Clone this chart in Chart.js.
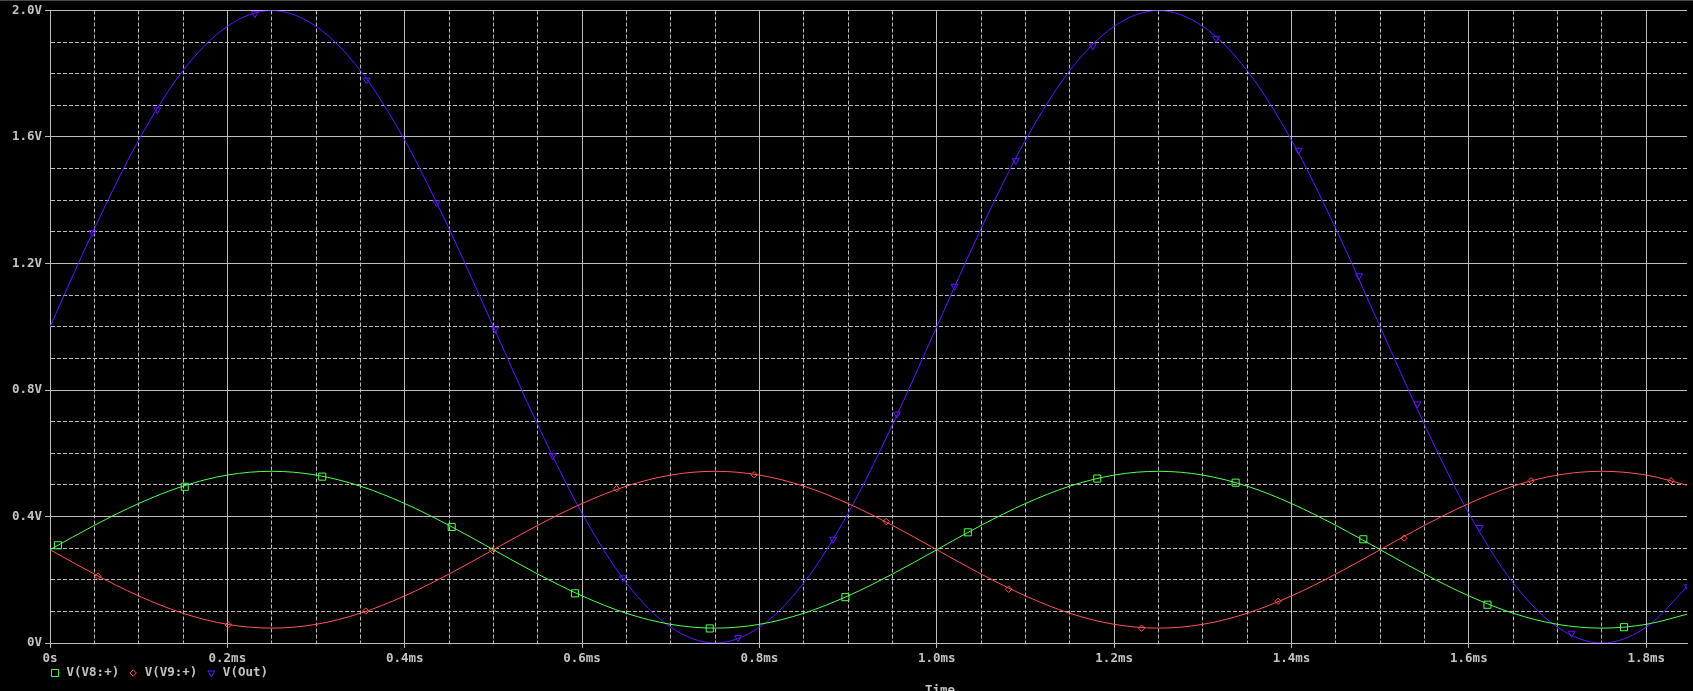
<!DOCTYPE html>
<html>
<head>
<meta charset="utf-8">
<title>V(V8:+), V(V9:+), V(Out)</title>
<script src="https://cdn.jsdelivr.net/npm/chart.js@4.4.1/dist/chart.umd.min.js"></script>
<style>
  html, body { margin: 0; padding: 0; background: #000; overflow: hidden; }
  #wrap { position: relative; width: 1693px; height: 691px; }
  #topline { position: absolute; left: 0; top: 0; width: 100%; height: 1px; background: #4a4a4a; }
</style>
</head>
<body>
<div id="wrap">
  <canvas id="probeChart" width="1693" height="691"></canvas>
  <div id="topline"></div>
</div>
<script>
// time axis in ms, sampled every 0.05 ms
const timeMs = [
    0.00, 0.05, 0.10, 0.15, 0.20, 0.25, 0.30, 0.35, 0.40, 0.45,
    0.50, 0.55, 0.60, 0.65, 0.70, 0.75, 0.80, 0.85, 0.90, 0.95,
    1.00, 1.05, 1.10, 1.15, 1.20, 1.25, 1.30, 1.35, 1.40, 1.45,
    1.50, 1.55, 1.60, 1.65, 1.70, 1.75, 1.80, 1.85
];

// V(V8:+) - green
const vV8 = [
    0.295, 0.372, 0.441, 0.496, 0.531, 0.543, 0.531, 0.496, 0.441, 0.372,
    0.295, 0.218, 0.149, 0.094, 0.059, 0.047, 0.059, 0.094, 0.149, 0.218,
    0.295, 0.372, 0.441, 0.496, 0.531, 0.543, 0.531, 0.496, 0.441, 0.372,
    0.295, 0.218, 0.149, 0.094, 0.059, 0.047, 0.059, 0.094
];

// V(V9:+) - red
const vV9 = [
    0.295, 0.218, 0.149, 0.094, 0.059, 0.047, 0.059, 0.094, 0.149, 0.218,
    0.295, 0.372, 0.441, 0.496, 0.531, 0.543, 0.531, 0.496, 0.441, 0.372,
    0.295, 0.218, 0.149, 0.094, 0.059, 0.047, 0.059, 0.094, 0.149, 0.218,
    0.295, 0.372, 0.441, 0.496, 0.531, 0.543, 0.531, 0.496
];

// V(Out) - blue
const vOut = [
    1.00, 1.31, 1.59, 1.81, 1.95, 2.00, 1.95, 1.81, 1.59, 1.31,
    1.00, 0.69, 0.41, 0.19, 0.05, 0.00, 0.05, 0.19, 0.41, 0.69,
    1.00, 1.31, 1.59, 1.81, 1.95, 2.00, 1.95, 1.81, 1.59, 1.31,
    1.00, 0.69, 0.41, 0.19, 0.05, 0.00, 0.05, 0.19
];

// probe markers as placed on the traces
const v8MarkT = [0.009, 0.152, 0.307, 0.453, 0.592, 0.744, 0.897, 1.035, 1.181, 1.337, 1.481, 1.621, 1.775];
const v8MarkV = [0.309, 0.494, 0.526, 0.367, 0.157, 0.046, 0.145, 0.350, 0.520, 0.507, 0.328, 0.121, 0.050];

const v9MarkT = [0.054, 0.201, 0.356, 0.499, 0.639, 0.794, 0.943, 1.081, 1.231, 1.385, 1.527, 1.670, 1.828];
const v9MarkV = [0.211, 0.057, 0.101, 0.293, 0.488, 0.532, 0.384, 0.170, 0.047, 0.132, 0.332, 0.513, 0.513];

const outMarkT = [0.048, 0.121, 0.231, 0.357, 0.436, 0.502, 0.567, 0.646, 0.776, 0.883, 0.955, 1.020,
                  1.089, 1.176, 1.315, 1.408, 1.476, 1.542, 1.612, 1.716, 1.847];
const outMarkV = [1.298, 1.686, 1.990, 1.780, 1.392, 0.992, 0.592, 0.206, 0.017, 0.328, 0.724, 1.128,
                  1.525, 1.888, 1.912, 1.558, 1.161, 0.756, 0.365, 0.031, 0.178];

const seriesNames = ['V(V8:+)', 'V(V9:+)', 'V(Out)'];
const xTitle = 'Time';

const GREEN = '#55ff55';
const RED = '#ff5555';
const BLUE = '#6018ff';
const GRID = '#bdbdbd';
const TEXT = '#c4c4c4';
const FONT = { family: '"DejaVu Sans Mono", monospace', size: 12.5, weight: 'bold' };

function toPoints(xs, ys) {
    return xs.map((x, i) => ({ x: x, y: ys[i] }));
}

function isMajorX(v) { return Math.round(v * 100) % 20 === 0; }
function isMajorY(v) { return Math.round(v * 10) % 4 === 0; }

function traceDataset(data, color) {
    return {
        data: data,
        borderColor: color,
        borderWidth: 1,
        pointRadius: 0,
        fill: false,
        cubicInterpolationMode: 'monotone'
    };
}

function markerDataset(data, color, style, radius, rotation, name) {
    return {
        data: data,
        showLine: false,
        borderColor: color,
        backgroundColor: 'rgba(0,0,0,0)',
        borderWidth: 1,
        pointStyle: style,
        pointRadius: radius,
        pointRotation: rotation,
        legendText: name
    };
}

// legend row and the "Time" caption under the axis
const footerPlugin = {
    id: 'probeFooter',
    afterDraw(chart) {
        const ctx = chart.ctx;
        const area = chart.chartArea;
        ctx.save();
        ctx.font = 'bold 12.5px "DejaVu Sans Mono", monospace';
        ctx.textBaseline = 'middle';
        ctx.lineWidth = 1;
        let x = area.left + 5;
        const y = area.bottom + 30;
        chart.data.datasets.forEach(ds => {
            if (!ds.legendText) return;
            ctx.strokeStyle = ds.borderColor;
            ctx.fillStyle = 'rgba(0,0,0,0)';
            Chart.helpers.drawPoint(ctx, {
                pointStyle: ds.pointStyle,
                radius: ds.pointRadius,
                rotation: ds.pointRotation,
                borderWidth: 1
            }, x, y);
            ctx.fillStyle = TEXT;
            ctx.textAlign = 'left';
            ctx.fillText(ds.legendText, x + 11.5, y);
            x += 11.5 + ctx.measureText(ds.legendText).width + 14;
        });
        ctx.textAlign = 'center';
        ctx.textBaseline = 'top';
        ctx.fillStyle = TEXT;
        ctx.fillText(xTitle, 940, area.bottom + 41);
        ctx.restore();
    }
};

const ctx = document.getElementById('probeChart').getContext('2d');
new Chart(ctx, {
    type: 'line',
    data: {
        datasets: [
            traceDataset(toPoints(timeMs, vV8), GREEN),
            traceDataset(toPoints(timeMs, vV9), RED),
            traceDataset(toPoints(timeMs, vOut), BLUE),
            markerDataset(toPoints(v8MarkT, v8MarkV), GREEN, 'rect', 5, 0, seriesNames[0]),
            markerDataset(toPoints(v9MarkT, v9MarkV), RED, 'rectRot', 3.2, 0, seriesNames[1]),
            markerDataset(toPoints(outMarkT, outMarkV), BLUE, 'triangle', 4, 180, seriesNames[2])
        ]
    },
    options: {
        responsive: false,
        animation: false,
        events: [],
        layout: { padding: { top: 8, left: 0, right: 0, bottom: 0 } },
        plugins: {
            legend: { display: false },
            tooltip: { enabled: false }
        },
        scales: {
            x: {
                type: 'linear',
                min: 0,
                max: 1.846,
                afterFit: (scale) => { scale.height = 48; },
                ticks: {
                    stepSize: 0.05,
                    includeBounds: false,
                    autoSkip: false,
                    maxRotation: 0,
                    padding: 3,
                    color: TEXT,
                    font: FONT,
                    callback: (v) => isMajorX(v) ? (v === 0 ? '0s' : v.toFixed(1) + 'ms') : ''
                },
                grid: {
                    color: GRID,
                    lineWidth: 1,
                    tickLength: 5,
                    tickColor: (c) => (c.tick && isMajorX(c.tick.value)) ? GRID : 'rgba(0,0,0,0)'
                },
                border: {
                    color: GRID,
                    width: 1,
                    dash: (c) => (c.tick && !isMajorX(c.tick.value)) ? [4, 2] : []
                }
            },
            y: {
                type: 'linear',
                min: 0,
                max: 2.0,
                afterFit: (scale) => { scale.width = 50; },
                ticks: {
                    stepSize: 0.1,
                    autoSkip: false,
                    padding: 3,
                    color: TEXT,
                    font: FONT,
                    callback: (v) => isMajorY(v) ? (v === 0 ? '0V' : v.toFixed(1) + 'V') : ''
                },
                grid: {
                    color: GRID,
                    lineWidth: 1,
                    tickLength: 5,
                    tickColor: (c) => (c.tick && isMajorY(c.tick.value)) ? GRID : 'rgba(0,0,0,0)'
                },
                border: {
                    color: GRID,
                    width: 1,
                    dash: (c) => (c.tick && !isMajorY(c.tick.value)) ? [4, 2] : []
                }
            }
        }
    },
    plugins: [footerPlugin]
});
</script>
</body>
</html>
